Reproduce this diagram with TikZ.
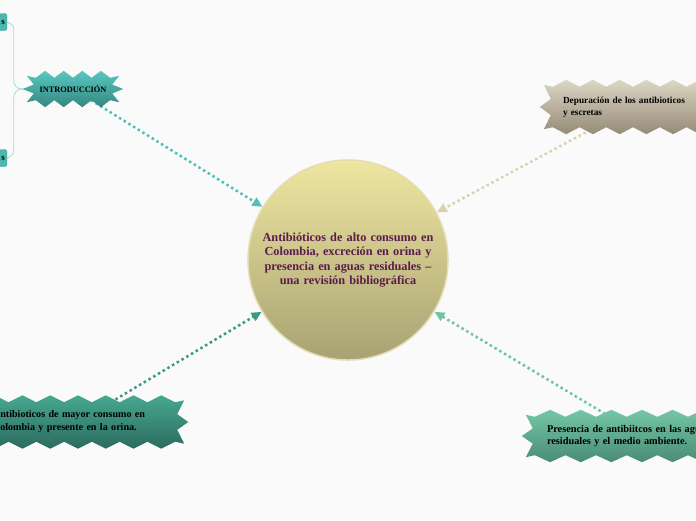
\documentclass[tikz,border=0pt]{standalone}
\usepackage{fontspec}
\setmainfont{Liberation Serif}
\usetikzlibrary{arrows.meta, calc, backgrounds}

\definecolor{bgcol}{HTML}{FAFAFA}
\definecolor{hubtop}{HTML}{EEE6A0}
\definecolor{hubbot}{HTML}{A8A273}
\definecolor{hubedge}{HTML}{E4DDB4}
\definecolor{hubtext}{HTML}{5B1B4D}
\definecolor{introtop}{HTML}{58C8C0}
\definecolor{introbot}{HTML}{35877F}
\definecolor{introline}{HTML}{4EC0B9}
\definecolor{depurtop}{HTML}{DCD6C2}
\definecolor{depurbot}{HTML}{958B78}
\definecolor{depurline}{HTML}{D9D2B0}
\definecolor{orinatop}{HTML}{46A890}
\definecolor{orinabot}{HTML}{2C6B5E}
\definecolor{orinaline}{HTML}{3A9B84}
\definecolor{aguastop}{HTML}{74C6A6}
\definecolor{aguasbot}{HTML}{4A8C76}
\definecolor{aguasline}{HTML}{6DC5A5}
\definecolor{leaffill}{HTML}{4DB8AF}
\definecolor{leafedge}{HTML}{3F9E96}
\definecolor{twigcol}{HTML}{A6DCDC}

% zigzag burst behind a node: node, top colour, bottom colour, teeth
\newcommand{\burst}[4]{%
  \shade[top color=#2, bottom color=#3]
    let \p1=(#1.north west), \p2=(#1.south east),
        \n1={(\x2-\x1)/#4} in
    (\x1,\y1)
    \foreach \k in {1,...,#4}{ -- ({\x1+(\k-0.5)*\n1},{\y1+7pt}) -- ({\x1+\k*\n1},\y1) }
    -- ({\x2+9pt},{\y1+2pt}) -- ({\x2+2pt},{\y1-0.3*(\y1-\y2)})
    -- ({\x2+13pt},{0.5*(\y1+\y2)}) -- ({\x2+2pt},{\y2+0.3*(\y1-\y2)})
    -- ({\x2+9pt},{\y2-2pt}) -- (\x2,\y2)
    \foreach \k in {1,...,#4}{ -- ({\x2-(\k-0.5)*\n1},{\y2-7pt}) -- ({\x2-\k*\n1},\y2) }
    -- ({\x1-9pt},{\y2-2pt}) -- ({\x1-2pt},{\y2+0.3*(\y1-\y2)})
    -- ({\x1-13pt},{0.5*(\y1+\y2)}) -- ({\x1-2pt},{\y1-0.3*(\y1-\y2)})
    -- ({\x1-9pt},{\y1+2pt}) -- cycle;
}

\begin{document}
\begin{tikzpicture}[
  x=1pt, y=-1pt,
  >={Triangle[length=10pt,width=9pt]},
  % node styles
  hub/.style={
    circle, minimum size=200pt, draw=hubedge, line width=1.5pt,
    top color=hubtop, bottom color=hubbot, text width=184pt,
    align=center, text=hubtext, font=\fontsize{12.3}{14.3}\selectfont\bfseries
  },
  topic/.style={
    rectangle, inner ysep=0pt, align=left,
    font=\fontsize{9.3}{12}\selectfont\bfseries
  },
  leaf/.style={
    rectangle, rounded corners=2pt, fill=leaffill, draw=leafedge,
    text width=40pt, align=right, inner sep=2pt, minimum height=17pt,
    font=\fontsize{9}{10}\selectfont\bfseries
  },
  link/.style={->, line width=2.5pt, dash pattern=on 2.5pt off 3pt},
  twig/.style={draw=twigcol, line width=0.8pt, rounded corners=8pt}
]
\useasboundingbox (0,0) rectangle (696,520);

% Central topic
\node[hub] (hub) at (348,260) {Antibióticos de alto consumo en\\Colombia, excreción en orina y\\presencia en aguas residuales –\\una revisión bibliográfica};

% Main topics
\node[topic, minimum width=74pt, minimum height=22pt, inner xsep=0pt, align=center,
  font=\fontsize{8.3}{9}\selectfont\bfseries] (intro) at (73,89) {INTRODUCCIÓN};
\node[topic, text width=140pt, inner xsep=10pt, minimum height=40pt] (depur) at (633,107)
  {Depuración de los antibioticos\\y escretas};
\node[topic, text width=170pt, inner xsep=12pt, minimum height=39pt,
  font=\fontsize{10.1}{13}\selectfont\bfseries] (orina) at (78,422)
  {Antibioticos de mayor consumo en\\Colombia y presente en la orina.};
\node[topic, text width=190pt, inner xsep=12pt, minimum height=38pt,
  font=\fontsize{10.3}{12}\selectfont\bfseries] (aguas) at (642,436)
  {Presencia de antibiitcos en las aguas\\residuales y el medio ambiente.};

% Subtopics of the introduction
\node[leaf, anchor=east] (leafA) at (7,22) {s};
\node[leaf, anchor=east] (leafB) at (7,158) {s};

\begin{pgfonlayer}{background}
  \fill[bgcol] (0,0) rectangle (696,520);

  % Branches
  \draw[twig] (intro.west) -- ++(-22,0) |- (leafA.east);
  \draw[twig] (intro.west) -- ++(-22,0) |- (leafB.east);

  % Links to the centre
  \draw[link, introline] (intro) -- (hub);
  \draw[link, depurline] (depur) -- (hub);
  \draw[link, orinaline] (orina) -- (hub);
  \draw[link, aguasline] (aguas) -- (hub);

  % Burst shapes
  \burst{intro}{introtop}{introbot}{4}
  \burst{depur}{depurtop}{depurbot}{6}
  \burst{orina}{orinatop}{orinabot}{7}
  \burst{aguas}{aguastop}{aguasbot}{7}
\end{pgfonlayer}

\end{tikzpicture}
\end{document}
